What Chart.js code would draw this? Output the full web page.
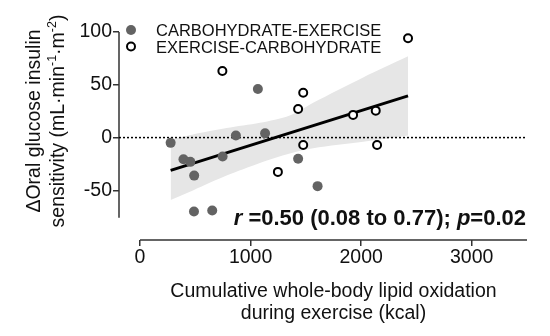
<!DOCTYPE html>
<html lang="en">
<head>
  <meta charset="UTF-8">
  <title>Lipid oxidation and glucose insulin sensitivity</title>
  <script src="https://cdn.jsdelivr.net/npm/chart.js"></script>
  <style>
    html, body { margin: 0; padding: 0; background: #ffffff; }
    #wrap { width: 550px; height: 336px; position: relative; }
  </style>
</head>
<body>
  <div id="wrap"><canvas id="chart"></canvas></div>

  <script>
    // Carbohydrate-exercise trial (filled markers)
    const ceX = [277, 393, 455, 490, 747, 867, 1066, 1131, 1430, 1606, 488, 653];
    const ceY = [-5, -20.5, -23, -36, -18, 2, 46, 4, -20, -46, -70, -69];
    // Exercise-carbohydrate trial (open markers)
    const ecX = [745, 1476, 1430, 1476, 1247, 1927, 2132, 2144, 2424];
    const ecY = [63, 42.5, 27, -7, -32.5, 21.5, 25.5, -7, 94];
    // Fitted line and its confidence band
    const fitX = [277, 2424];
    const fitY = [-31, 39.5];
    const bandX = [277, 479, 783, 1084, 1355, 1566, 2018, 2424];
    const bandUpper = [-2, 3, 9, 14, 21, 33, 57, 77];
    const bandLower = [-59, -50, -36, -24, -15, -10, -4, 2];
    // Axes
    const xTicks = [0, 1000, 2000, 3000];
    const yTicks = [-50, 0, 50, 100];
    const xMin = -190, xMax = 3500, xAxisStart = 0;
    const yMin = -97, yMax = 100, yAxisEnd = -76;

    const FONT = '"Liberation Sans", Arial, sans-serif';
    const INK = '#111111';
    const AXIS = '#333333';
    const FILLED = '#636363';

    const pts = (xs, ys) => xs.map((v, i) => ({ x: v, y: ys[i] }));

    // axis lines, legend, titles and the statistics label
    const decor = {
      id: 'decor',
      beforeDatasetsDraw(chart) {
        const { ctx, chartArea, scales: { x, y } } = chart;
        ctx.save();
        ctx.strokeStyle = AXIS;
        ctx.lineWidth = 1.5;
        ctx.beginPath();
        ctx.moveTo(chartArea.left, y.getPixelForValue(yMax));
        ctx.lineTo(chartArea.left, y.getPixelForValue(yAxisEnd));
        ctx.moveTo(x.getPixelForValue(xAxisStart), chartArea.bottom);
        ctx.lineTo(x.getPixelForValue(xMax), chartArea.bottom);
        ctx.stroke();
        ctx.restore();
      },
      afterDraw(chart) {
        const { ctx, scales: { x } } = chart;
        ctx.save();
        ctx.fillStyle = INK;

        // legend
        const legend = [
          { label: 'CARBOHYDRATE-EXERCISE', open: false, y: 30 },
          { label: 'EXERCISE-CARBOHYDRATE', open: true, y: 46.5 }
        ];
        legend.forEach(item => {
          ctx.beginPath();
          if (item.open) {
            ctx.arc(131, item.y, 4, 0, Math.PI * 2);
            ctx.fillStyle = '#ffffff';
            ctx.fill();
            ctx.lineWidth = 2;
            ctx.strokeStyle = '#000000';
            ctx.stroke();
          } else {
            ctx.arc(131, item.y, 5, 0, Math.PI * 2);
            ctx.fillStyle = FILLED;
            ctx.fill();
          }
          ctx.fillStyle = INK;
          ctx.font = '16.5px ' + FONT;
          ctx.textAlign = 'left';
          ctx.textBaseline = 'alphabetic';
          ctx.fillText(item.label, 156, item.y + 6);
        });

        // x axis title, centred on the drawn axis line
        const cx = (x.getPixelForValue(xAxisStart) + x.getPixelForValue(xMax)) / 2;
        ctx.font = '19.5px ' + FONT;
        ctx.textAlign = 'center';
        ctx.fillText('Cumulative whole-body lipid oxidation', cx, 297);
        ctx.fillText('during exercise (kcal)', cx, 319);

        // y axis title, rotated
        ctx.save();
        ctx.translate(40, 121);
        ctx.rotate(-Math.PI / 2);
        ctx.fillText('\u0394Oral glucose insulin', 0, 0);
        ctx.restore();

        const parts = [
          { t: 'sensitivity (mL\u00b7min', sup: false },
          { t: '-1', sup: true },
          { t: '\u00b7m', sup: false },
          { t: '-2', sup: true },
          { t: ')', sup: false }
        ];
        const fontFor = p => (p.sup ? '12.5px ' : '19.5px ') + FONT;
        let total = 0;
        parts.forEach(p => { ctx.font = fontFor(p); p.w = ctx.measureText(p.t).width; total += p.w; });
        ctx.save();
        ctx.translate(63.5, 121);
        ctx.rotate(-Math.PI / 2);
        ctx.textAlign = 'left';
        let px = -total / 2;
        parts.forEach(p => {
          ctx.font = fontFor(p);
          ctx.fillText(p.t, px, p.sup ? -7.5 : 0);
          px += p.w;
        });
        ctx.restore();

        // correlation label
        const stat = [
          { t: 'r', it: true },
          { t: ' =0.50 (0.08 to 0.77); ', it: false },
          { t: 'p', it: true },
          { t: '=0.02', it: false }
        ];
        const statFont = s => (s.it ? 'italic bold 22px ' : 'bold 22px ') + FONT;
        let sw = 0;
        stat.forEach(s => { ctx.font = statFont(s); s.w = ctx.measureText(s.t).width; sw += s.w; });
        let sx = 526 - sw;
        ctx.textAlign = 'left';
        stat.forEach(s => {
          ctx.font = statFont(s);
          ctx.fillText(s.t, sx, 225);
          sx += s.w;
        });

        ctx.restore();
      }
    };

    const tickGrid = {
      display: true,
      drawOnChartArea: false,
      drawTicks: true,
      tickLength: 6,
      color: AXIS,
      lineWidth: 1.5
    };

    new Chart(document.getElementById('chart'), {
      type: 'scatter',
      data: {
        datasets: [
          {
            label: 'CARBOHYDRATE-EXERCISE',
            data: pts(ceX, ceY),
            pointRadius: 5,
            pointBackgroundColor: FILLED,
            pointBorderWidth: 0,
            order: 1
          },
          {
            label: 'EXERCISE-CARBOHYDRATE',
            data: pts(ecX, ecY),
            pointRadius: 4,
            pointBackgroundColor: '#ffffff',
            pointBorderColor: '#000000',
            pointBorderWidth: 2,
            order: 0
          },
          {
            type: 'line',
            label: 'fit',
            data: pts(fitX, fitY),
            borderColor: '#000000',
            borderWidth: 3,
            pointRadius: 0,
            fill: false,
            order: 2
          },
          {
            type: 'line',
            label: 'zero',
            data: pts([xMin, xMax], [0, 0]),
            borderColor: '#000000',
            borderWidth: 1.5,
            borderDash: [2, 2],
            pointRadius: 0,
            fill: false,
            order: 3
          },
          {
            type: 'line',
            label: 'band lower',
            data: pts(bandX, bandLower),
            borderWidth: 0,
            borderColor: 'rgba(0,0,0,0)',
            pointRadius: 0,
            fill: false,
            tension: 0.3,
            order: 5
          },
          {
            type: 'line',
            label: 'band upper',
            data: pts(bandX, bandUpper),
            borderWidth: 0,
            borderColor: 'rgba(0,0,0,0)',
            backgroundColor: '#e6e6e6',
            pointRadius: 0,
            fill: '-1',
            tension: 0.3,
            order: 4
          }
        ]
      },
      options: {
        responsive: true,
        maintainAspectRatio: false,
        animation: false,
        layout: {
          autoPadding: false,
          padding: { top: 32, right: 23, bottom: 0, left: 0 }
        },
        plugins: {
          legend: { display: false },
          tooltip: { enabled: false }
        },
        scales: {
          x: {
            type: 'linear',
            min: xMin,
            max: xMax,
            afterBuildTicks: s => { s.ticks = xTicks.map(v => ({ value: v })); },
            afterFit: s => { s.height = 96; s.paddingLeft = 0; s.paddingRight = 0; },
            grid: tickGrid,
            border: { display: false },
            ticks: {
              padding: 0,
              maxRotation: 0,
              color: INK,
              font: { family: FONT, size: 19.5 },
              callback: v => String(v)
            }
          },
          y: {
            type: 'linear',
            min: yMin,
            max: yMax,
            afterBuildTicks: s => { s.ticks = yTicks.map(v => ({ value: v })); },
            afterFit: s => { s.width = 119; s.paddingTop = 0; s.paddingBottom = 0; },
            grid: tickGrid,
            border: { display: false },
            ticks: {
              padding: 1,
              color: INK,
              font: { family: FONT, size: 19.5 },
              callback: v => String(v)
            }
          }
        }
      },
      plugins: [decor]
    });
  </script>
</body>
</html>
